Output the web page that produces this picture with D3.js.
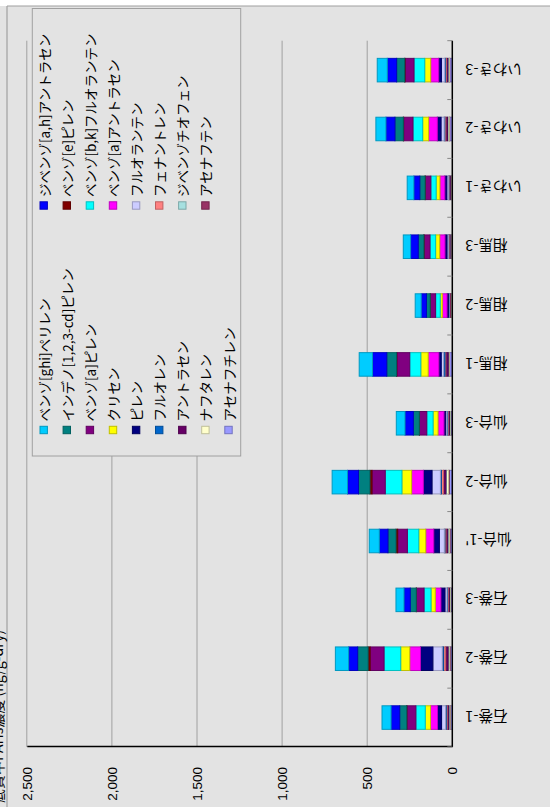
<!DOCTYPE html>
<html>
<head>
<meta charset="utf-8">
<script src="https://cdn.jsdelivr.net/npm/d3@7"></script>
<style>
  html, body { margin: 0; padding: 0; background: #e3e3e3; }
  svg { display: block; }
</style>
</head>
<body>
<svg id="chart" width="550" height="807"></svg>
<script>
// Sampling sites (left to right on the category axis)
const categories = ["石巻-1", "石巻-2", "石巻-3", "仙台-1'", "仙台-2", "仙台-3",
                    "相馬-1", "相馬-2", "相馬-3", "いわき-1", "いわき-2", "いわき-3"];

// Compounds in stacking order (bottom of the stack first)
const seriesNames = ["アセナフチレン", "アセナフテン", "ナフタレン", "ジベンゾチオフェン",
  "アントラセン", "フェナントレン", "フルオレン", "フルオランテン", "ピレン",
  "ベンゾ[a]アントラセン", "クリセン", "ベンゾ[b,k]フルオランテン", "ベンゾ[a]ピレン",
  "ベンゾ[e]ピレン", "インデノ[1,2,3-cd]ピレン", "ジベンゾ[a,h]アントラセン", "ベンゾ[ghi]ペリレン"];

const seriesColors = ["#9999ff", "#993366", "#ffffcc", "#a6e0e0", "#660066", "#ff8080",
  "#0066cc", "#ccccff", "#000080", "#ff00ff", "#ffff00", "#00ffff", "#800080",
  "#800000", "#008080", "#0000ff", "#00ccff"];

// Concentrations per compound, one value per site (same order as categories)
const acenaphthylene  = [11, 12,  9, 13, 18,  9, 16,  5,  7,  6, 15, 15];
const acenaphthene    = [ 2,  3,  2,  3,  4,  2,  2,  1,  1,  1,  3,  2];
const naphthalene     = [ 5,  6,  4,  8, 12,  3,  3,  2,  3,  3,  7,  6];
const dibenzothiophene= [ 3,  4,  2,  3,  4,  3,  3,  2,  2,  2,  3,  3];
const anthracene      = [ 9, 14,  7, 10, 14,  6, 14,  4,  5,  5, 10,  9];
const phenanthrene    = [ 5, 12,  4,  6, 12,  4,  5,  3,  3,  3,  6,  5];
const fluorene        = [ 4,  8,  3,  4,  6,  4,  8,  2,  2,  2,  4,  4];
const fluoranthene    = [24, 55, 12, 29, 49,  8, 14,  4,  8, 10, 18, 20];
const pyrene          = [24, 73, 24, 33, 51, 10, 14,  8, 12, 12, 22, 16];
const benzAAnthracene = [41, 63, 33, 47, 69, 35, 63, 28, 31, 29, 51, 47];
const chrysene        = [31, 53, 25, 41, 57, 29, 43, 12, 24, 22, 35, 35];
const benzoBKFluor    = [55, 98, 41, 67, 98, 37, 65, 27, 33, 31, 57, 63];
const benzoAPyrene    = [53, 82, 45, 57, 78, 43, 76, 31, 35, 33, 55, 53];
const benzoEPyrene    = [ 1, 12,  1, 10, 12,  1,  2,  1,  1,  1,  2,  2];
const indenoPyrene    = [41, 61, 35, 47, 67, 35, 57, 22, 33, 31, 49, 47];
const dibenzAHAnthr   = [51, 53, 37, 51, 65, 49, 84, 31, 45, 35, 53, 55];
const benzoGHIPerylene= [53, 78, 47, 59, 90, 51, 78, 35, 43, 39, 59, 59];

const seriesValues = [acenaphthylene, acenaphthene, naphthalene, dibenzothiophene,
  anthracene, phenanthrene, fluorene, fluoranthene, pyrene, benzAAnthracene, chrysene,
  benzoBKFluor, benzoAPyrene, benzoEPyrene, indenoPyrene, dibenzAHAnthr, benzoGHIPerylene];

// Value axis ticks
const valueTicks = [0, 500, 1000, 1500, 2000, 2500];

const chartTitle = "底質中PAHs濃度 (ng/g-dry)";

// ---- layout (the chart is laid out landscape, then turned a quarter turn) ----
const W = 807, H = 550;
const plot = { left: 60, right: 766.3, top: 26.8, bottom: 452.3 };
const jpFont = "'Noto Sans CJK JP', 'Noto Sans', sans-serif";
const numFont = "'Liberation Sans', Arial, sans-serif";
const gridColor = "#a0a0a0";

const svg = d3.select("#chart");
svg.append("rect").attr("width", 550).attr("height", 807).attr("fill", "#e3e3e3");

const g = svg.append("g").attr("transform", `translate(0,${W}) rotate(-90)`);

// chart area frame
g.append("rect").attr("x", 801).attr("y", 0).attr("width", 6).attr("height", H).attr("fill", "#ffffff");
g.append("line").attr("x1", 801).attr("x2", 801).attr("y1", 7).attr("y2", H)
  .attr("stroke", gridColor).attr("stroke-width", 1.2);
g.append("line").attr("x1", 0).attr("x2", 801).attr("y1", 7).attr("y2", 7)
  .attr("stroke", gridColor).attr("stroke-width", 1.2);

// title (runs off the top edge of the frame)
g.append("text").attr("x", 4).attr("y", 3)
  .attr("font-family", jpFont).attr("font-size", 14).attr("fill", "#000")
  .text(chartTitle);

// scales
const x = d3.scaleBand().domain(categories)
  .range([plot.left, plot.right]).paddingInner(0.6).paddingOuter(0.3);
const y = d3.scaleLinear().domain([0, 2500]).range([plot.bottom, plot.top]);

// gridlines
g.append("g").selectAll("line").data(valueTicks.filter(v => v > 0)).join("line")
  .attr("x1", plot.left).attr("x2", plot.right)
  .attr("y1", d => y(d)).attr("y2", d => y(d))
  .attr("stroke", gridColor).attr("stroke-width", 1);

// stacked bars
const rows = categories.map((c, i) => {
  const r = { cat: c };
  seriesNames.forEach((s, k) => { r[s] = seriesValues[k][i]; });
  return r;
});
const stack = d3.stack().keys(seriesNames)(rows);

g.append("g").selectAll("g").data(stack).join("g")
  .attr("fill", (d, k) => seriesColors[k])
  .attr("stroke", (d, k) => d3.color(seriesColors[k]).darker(0.8).formatHex())
  .attr("stroke-width", 1)
  .selectAll("rect").data(d => d).join("rect")
  .attr("x", d => x(d.data.cat))
  .attr("width", x.bandwidth())
  .attr("y", d => y(d[1]))
  .attr("height", d => Math.max(0, y(d[0]) - y(d[1])));

// value axis
const yAxis = g.append("g").attr("transform", `translate(${plot.left},0)`)
  .call(d3.axisLeft(y).tickValues(valueTicks).tickFormat(d3.format(",")).tickSize(0).tickPadding(20));
yAxis.select(".domain").attr("stroke", "#000").attr("stroke-width", 1.5);
yAxis.selectAll("text").attr("font-family", numFont).attr("font-size", 13.5).attr("fill", "#000");

// category axis
const step = x.step();
const xAxis = g.append("g").attr("transform", `translate(0,${plot.bottom})`);
xAxis.append("line").attr("x1", plot.left).attr("x2", plot.right)
  .attr("stroke", "#000").attr("stroke-width", 1.5);
xAxis.selectAll("line.tick").data(d3.range(categories.length + 1)).join("line")
  .attr("class", "tick")
  .attr("x1", i => plot.left + i * step).attr("x2", i => plot.left + i * step)
  .attr("y1", -5).attr("y2", 0).attr("stroke", "#888").attr("stroke-width", 1);
xAxis.selectAll("text").data(categories).join("text")
  .attr("transform", d => `translate(${x(d) + x.bandwidth() / 2},13) rotate(-90)`)
  .attr("text-anchor", "end").attr("dominant-baseline", "central")
  .attr("font-family", jpFont).attr("font-size", 14.5).attr("fill", "#000")
  .text(d => d);

// legend (two columns, top series first)
const legend = g.append("g");
legend.append("rect").attr("x", 351).attr("y", 32.3).attr("width", 447.5).attr("height", 208.4)
  .attr("fill", "#e3e3e3").attr("stroke", gridColor).attr("stroke-width", 1);
const legendItems = seriesNames.map((s, k) => ({ name: s, color: seriesColors[k] })).reverse();
const colX = [377, 601.5];
const item = legend.selectAll("g.item").data(legendItems).join("g").attr("class", "item")
  .attr("transform", (d, i) => `translate(${colX[i % 2]},${43.7 + Math.floor(i / 2) * 23.1})`);
item.append("rect").attr("x", -3.7).attr("y", -3.7).attr("width", 7.4).attr("height", 7.4)
  .attr("fill", d => d.color).attr("stroke", d => d3.color(d.color).darker(0.8).formatHex());
item.append("text").attr("x", 8.5).attr("dominant-baseline", "central")
  .attr("font-family", jpFont).attr("font-size", 13.5).attr("fill", "#000")
  .text(d => d.name);
</script>
</body>
</html>
